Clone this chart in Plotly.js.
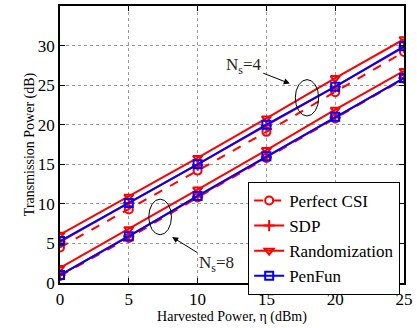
<!DOCTYPE html>
<html><head><meta charset="utf-8">
<script src="https://cdn.plot.ly/plotly-3.0.1.min.js"></script>
<style>
html,body{margin:0;padding:0;background:#fff}
#chart{width:417px;height:328px}
#chart text{font-family:"Liberation Serif","DejaVu Serif",serif !important;}
#chart .xtick text,#chart .ytick text{font-size:17px !important;fill:#000 !important;}
#chart .xtitle,#chart .ytitle{font-size:14px !important;fill:#000 !important;}
#chart .legendtext{font-size:17px !important;fill:#000 !important;}
#chart .annotation-text{font-size:17px !important;fill:#222 !important;}
</style>
</head><body><div id="chart"></div>
<script>
const power = [0, 5, 10, 15, 20, 25];
const perfectCSI_Ns4 = [4.5, 9.3, 14.2, 19.1, 24.1, 29.2];
const sdp_Ns4 = [5.2, 10.1, 14.9, 19.9, 24.8, 29.8];
const randomization_Ns4 = [6.1, 10.9, 15.8, 20.8, 25.9, 30.8];
const penfun_Ns4 = [5.3, 10.1, 15.0, 20.0, 24.8, 29.9];
const perfectCSI_Ns8 = [0.9, 5.7, 10.8, 15.8, 20.8, 25.8];
const sdp_Ns8 = [1.0, 5.9, 10.9, 15.9, 20.9, 25.9];
const randomization_Ns8 = [1.9, 6.8, 11.8, 16.8, 21.9, 26.8];
const penfun_Ns8 = [1.0, 5.9, 11.0, 16.0, 21.0, 25.9];
const xTicks = [0, 5, 10, 15, 20, 25];
const yTicks = [0, 5, 10, 15, 20, 25, 30, 35];

const RED = '#ff0000', BLUE = '#0000ff';
const FAM = 'Liberation Serif';
function mkTrace(name, y, color, dash, symbol, show) {
  return {x: power, y: y, name: name, legendgroup: name, showlegend: show,
    mode: 'lines+markers', type: 'scatter',
    line: {color: color, width: 2, dash: dash},
    marker: {symbol: symbol, size: 8, color: color, line: {color: color, width: 2}}};
}
const data = [
  mkTrace('Perfect CSI', perfectCSI_Ns4, RED, 'dash', 'circle-open', true),
  mkTrace('Perfect CSI', perfectCSI_Ns8, RED, 'dash', 'circle-open', false),
  mkTrace('SDP', sdp_Ns4, RED, 'solid', 'cross-thin-open', true),
  mkTrace('SDP', sdp_Ns8, RED, 'solid', 'cross-thin-open', false),
  mkTrace('Randomization', randomization_Ns4, RED, 'solid', 'triangle-down-open', true),
  mkTrace('Randomization', randomization_Ns8, RED, 'solid', 'triangle-down-open', false),
  mkTrace('PenFun', penfun_Ns4, BLUE, 'solid', 'square-open', true),
  mkTrace('PenFun', penfun_Ns8, BLUE, 'solid', 'square-open', false)
];
const layout = {
  width: 417, height: 328,
  margin: {l: 60, r: 13, t: 6, b: 45},
  font: {family: FAM, color: '#000', size: 17},
  xaxis: {range: [0, 25], tickvals: xTicks, showline: true, mirror: 'ticks', linecolor: '#000', linewidth: 1.5,
    ticks: 'inside', ticklen: 5, tickcolor: '#000', gridcolor: '#999', griddash: 'dot', zeroline: false,
    title: {text: 'Harvested Power, η (dBm)', font: {size: 14}, standoff: 0}},
  yaxis: {range: [0, 35], tickvals: yTicks, showline: true, mirror: 'ticks', linecolor: '#000', linewidth: 1.5,
    ticks: 'inside', ticklen: 5, tickcolor: '#000', gridcolor: '#999', griddash: 'dot', zeroline: false,
    title: {text: 'Transmission Power (dB)', font: {size: 14}, standoff: 0}},
  legend: {x: 0.547, y: 0.365, xanchor: 'left', yanchor: 'top', bgcolor: '#fff',
    bordercolor: '#000', borderwidth: 1, tracegroupgap: 0, itemwidth: 30, font: {size: 17}},
  shapes: [
    {type: 'circle', xref: 'x', yref: 'y', x0: 17.1, x1: 18.8, y0: 21.1, y1: 25.7, line: {color: '#000', width: 1}},
    {type: 'circle', xref: 'x', yref: 'y', x0: 6.45, x1: 8.1, y0: 6.1, y1: 10.6, line: {color: '#000', width: 1}}
  ],
  annotations: [
    {x: 16.7, y: 25.2, xref: 'x', yref: 'y', text: 'N<sub>s</sub>=4', showarrow: true, arrowhead: 2,
     arrowsize: 1.2, arrowwidth: 1, arrowcolor: '#000', ax: -46, ay: -18, font: {size: 17, color: '#222'}},
    {x: 8.15, y: 5.8, xref: 'x', yref: 'y', text: 'N<sub>s</sub>=8', showarrow: true, arrowhead: 2,
     arrowsize: 1.2, arrowwidth: 1, arrowcolor: '#000', ax: 44, ay: 27, font: {size: 17, color: '#222'}}
  ]
};
Plotly.newPlot('chart', data, layout, {displayModeBar: false});
</script></body></html>
